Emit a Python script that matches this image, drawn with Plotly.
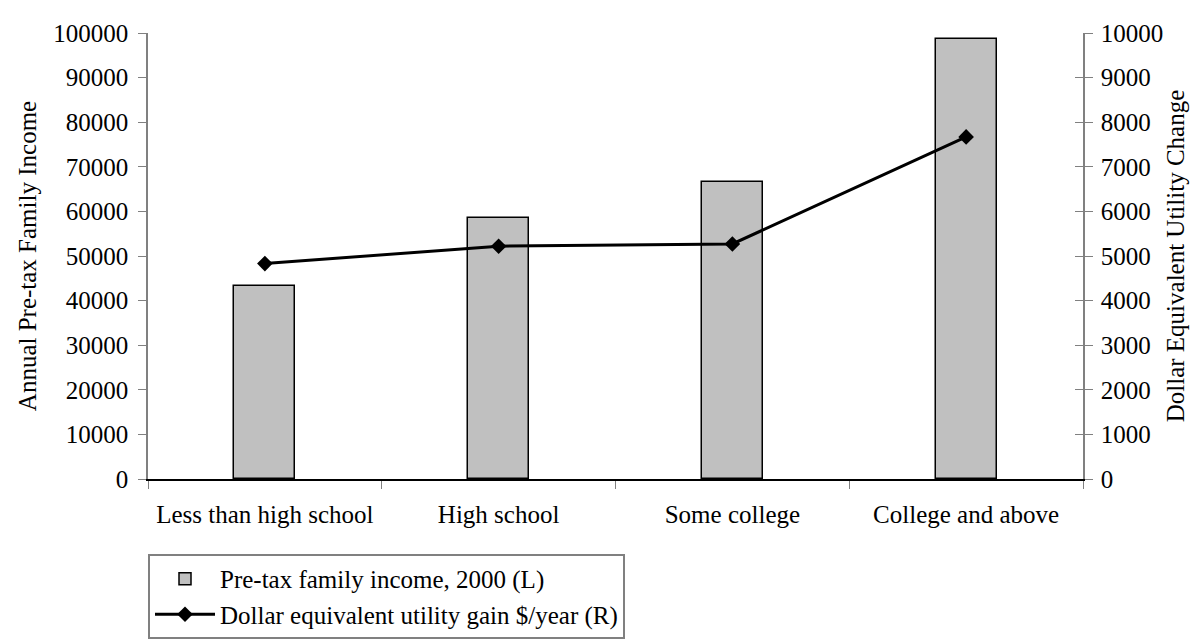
import plotly.graph_objects as go

categories = ["Less than high school", "High school", "Some college", "College and above"]
income = [43300, 58600, 66600, 98700]
utility_gain = [4830, 5220, 5270, 7670]

FONT = "Liberation Serif, Times New Roman, serif"

fig = go.Figure()

fig.add_trace(
    go.Bar(
        x=categories,
        y=income,
        name="Pre-tax family income, 2000 (L)",
        width=0.26,
        marker=dict(color="#C0C0C0", line=dict(color="black", width=1.5)),
    )
)
fig.add_trace(
    go.Scatter(
        x=categories,
        y=utility_gain,
        name="Dollar equivalent utility gain $/year (R)",
        yaxis="y2",
        mode="lines+markers",
        line=dict(color="black", width=3),
        marker=dict(symbol="diamond", size=12, color="black"),
    )
)
# invisible helper so the right axis can carry ticks on both sides
fig.add_trace(
    go.Scatter(x=categories, y=utility_gain, yaxis="y3", mode="none",
               showlegend=False, hoverinfo="skip")
)

fig.update_layout(
    width=1204,
    height=643,
    paper_bgcolor="white",
    plot_bgcolor="white",
    font=dict(family=FONT, size=25, color="black"),
    margin=dict(l=140, r=129, t=19, b=148),
    bargap=0,
    xaxis=dict(
        type="category",
        showline=True,
        linecolor="black",
        linewidth=1.5,
        ticks="outside",
        tickson="boundaries",
        ticklen=8,
        tickcolor="#808080",
        tickangle=0,
        ticklabelstandoff=12,
        tickfont=dict(size=25),
        showgrid=False,
        zeroline=False,
    ),
    yaxis=dict(
        range=[0, 100000],
        tickmode="linear",
        dtick=10000,
        tickformat="d",
        showline=True,
        linecolor="#808080",
        linewidth=1.5,
        ticks="outside",
        ticklen=8,
        tickcolor="#808080",
        ticklabelstandoff=5,
        showgrid=False,
        zeroline=False,
        title=dict(text="Annual Pre-tax Family Income", font=dict(size=25), standoff=10),
    ),
    yaxis2=dict(
        range=[0, 10000],
        tickmode="linear",
        dtick=1000,
        tickformat="d",
        overlaying="y",
        side="right",
        showline=True,
        linecolor="#808080",
        linewidth=1.5,
        ticks="outside",
        ticklen=8,
        tickcolor="#808080",
        ticklabelstandoff=3,
        showgrid=False,
        zeroline=False,
        title=dict(text="Dollar Equivalent Utility Change", font=dict(size=25), standoff=4),
    ),
    yaxis3=dict(
        range=[0, 10000],
        tickmode="linear",
        dtick=1000,
        overlaying="y",
        side="right",
        showline=False,
        ticks="inside",
        ticklen=8,
        tickcolor="#808080",
        showticklabels=False,
        showgrid=False,
        zeroline=False,
    ),
    legend=dict(
        x=0,
        xanchor="left",
        y=-0.168,
        yanchor="top",
        bgcolor="white",
        bordercolor="#808080",
        borderwidth=2,
        font=dict(size=25),
        tracegroupgap=0,
        itemwidth=60,
    ),
    showlegend=True,
)

fig.write_html("out.html")
